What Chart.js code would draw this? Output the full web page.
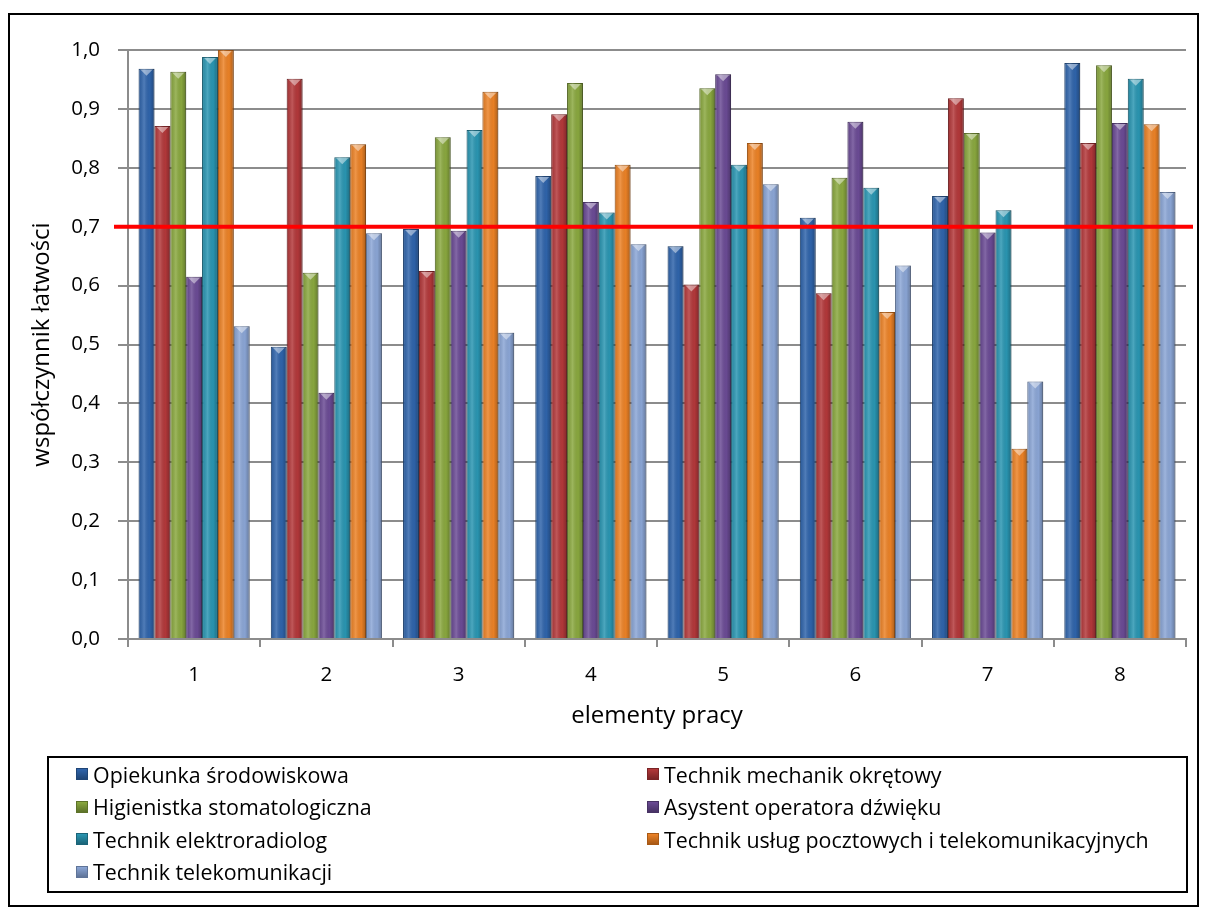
<!DOCTYPE html>
<html>
<head>
<meta charset="utf-8">
<script src="https://cdn.jsdelivr.net/npm/chart.js@4.4.0/dist/chart.umd.min.js"></script>
<style>
  body { margin: 0; background: #fff; font-family: "Open Sans", sans-serif; }
  #wrap { position: relative; width: 1206px; height: 914px; overflow: hidden; }
  #frame { position: absolute; left: 8px; top: 13px; width: 1187px; height: 890px; border: 2px solid #000; }
  #chart { position: absolute; left: 0; top: 0; }
  #legend {
    position: absolute; left: 47px; top: 756px; width: 1141px; height: 137px;
    border: 2px solid #000; box-sizing: border-box;
    display: grid; grid-template-columns: 571px 1fr; grid-auto-rows: 32.5px;
    padding-left: 27px; font-size: 21.4px; color: #000;
  }
  #legend div { display: flex; align-items: center; white-space: nowrap; }
  #legend span.sw { width: 12px; height: 12px; margin-right: 5px; box-sizing: border-box; }
</style>
</head>
<body>
<div id="wrap">
  <div id="frame"></div>
  <canvas id="chart" width="1206" height="914"></canvas>
  <div id="legend"></div>
</div>
<script>
// elementy pracy
const categories = ["1", "2", "3", "4", "5", "6", "7", "8"];

const seriesNames = [
  "Opiekunka środowiskowa",
  "Technik mechanik okrętowy",
  "Higienistka stomatologiczna",
  "Asystent operatora dźwięku",
  "Technik elektroradiolog",
  "Technik usług pocztowych i telekomunikacyjnych",
  "Technik telekomunikacji",
];

const opiekunka = [0.968, 0.496, 0.696, 0.786, 0.667, 0.715, 0.752, 0.978];
const mechanik = [0.871, 0.951, 0.625, 0.891, 0.602, 0.587, 0.918, 0.842];
const higienistka = [0.963, 0.622, 0.852, 0.944, 0.935, 0.783, 0.859, 0.974];
const asystent = [0.615, 0.418, 0.693, 0.742, 0.959, 0.878, 0.690, 0.876];
const elektroradiolog = [0.988, 0.818, 0.864, 0.724, 0.805, 0.766, 0.728, 0.951];
const uslugi = [1.0, 0.840, 0.929, 0.805, 0.842, 0.555, 0.323, 0.874];
const telekomunikacja = [0.531, 0.689, 0.520, 0.670, 0.772, 0.634, 0.437, 0.759];

const threshold = 0.7;

const colors = ["#2f64ab", "#b3383a", "#8aa83f", "#6b4b95", "#2a96b2", "#ec8226", "#8ba6d6"];
const borders = ["#1f4576", "#7a2426", "#5d7229", "#473264", "#1b6478", "#a85915", "#5f7498"];

const allValues = [opiekunka, mechanik, higienistka, asystent, elektroradiolog, uslugi, telekomunikacja];

const datasets = allValues.map((vals, i) => ({
  label: seriesNames[i],
  data: vals,
  backgroundColor: colors[i],
  borderColor: borders[i],
  borderWidth: 1,
  categoryPercentage: 0.84,
  barPercentage: 1.0,
}));

// cylinder-ish shading and the little cap on top of each bar
const barShade = {
  id: "barShade",
  afterDatasetsDraw(chart) {
    const ctx = chart.ctx;
    chart.data.datasets.forEach((ds, di) => {
      chart.getDatasetMeta(di).data.forEach((bar) => {
        const l = bar.x - bar.width / 2;
        const r = bar.x + bar.width / 2;
        const g = ctx.createLinearGradient(l, 0, r, 0);
        g.addColorStop(0, "rgba(0,0,0,0.10)");
        g.addColorStop(0.35, "rgba(255,255,255,0.16)");
        g.addColorStop(0.7, "rgba(0,0,0,0.02)");
        g.addColorStop(1, "rgba(0,0,0,0.28)");
        ctx.save();
        ctx.fillStyle = g;
        ctx.fillRect(l, bar.y, bar.width, bar.base - bar.y);
        ctx.beginPath();
        ctx.moveTo(l + 2, bar.y + 1);
        ctx.lineTo(r - 2, bar.y + 1);
        ctx.lineTo(bar.x, bar.y + 7);
        ctx.closePath();
        ctx.fillStyle = "rgba(255,255,255,0.45)";
        ctx.fill();
        ctx.restore();
      });
    });
  },
};

// red threshold line at 0,7
const thresholdLine = {
  id: "thresholdLine",
  afterDatasetsDraw(chart) {
    const { ctx, chartArea, scales } = chart;
    const y = scales.y.getPixelForValue(threshold);
    ctx.save();
    ctx.strokeStyle = "#ff0000";
    ctx.lineWidth = 4;
    ctx.beginPath();
    ctx.moveTo(chartArea.left - 14, y);
    ctx.lineTo(chartArea.right + 7, y);
    ctx.stroke();
    ctx.restore();
  },
};

const font = { family: "Open Sans", size: 20.5 };
const titleFont = { family: "Open Sans", size: 24 };

new Chart(document.getElementById("chart"), {
  type: "bar",
  data: { labels: categories, datasets: datasets },
  options: {
    responsive: false,
    animation: false,
    layout: { padding: { left: 0, top: 50, right: 20, bottom: 175 } },
    plugins: {
      legend: { display: false },
      tooltip: { enabled: false },
    },
    scales: {
      x: {
        afterFit: (s) => { s.height = 100; },
        grid: { display: true, drawOnChartArea: false, offset: true, tickLength: 8, color: "#8c8c8c", lineWidth: 2 },
        border: { color: "#8c8c8c", width: 2 },
        ticks: { color: "#000", font: font, padding: 16 },
        title: { display: true, text: "elementy pracy", color: "#000", font: titleFont, padding: { top: 0, bottom: 8.6 } },
      },
      y: {
        min: 0,
        max: 1,
        afterFit: (s) => { s.width = 128; },
        grid: { color: "#8c8c8c", lineWidth: 2, tickLength: 10 },
        border: { color: "#8c8c8c", width: 2 },
        ticks: {
          stepSize: 0.1,
          color: "#000",
          font: font,
          padding: 18,
          callback: (v) => v.toFixed(1).replace(".", ","),
        },
        title: { display: true, text: "współczynnik łatwości", color: "#000", font: titleFont, padding: { top: 27.6, bottom: 0 } },
      },
    },
  },
  plugins: [barShade, thresholdLine],
});

// Legend in two columns
const legend = document.getElementById("legend");
seriesNames.forEach((name, i) => {
  const item = document.createElement("div");
  const sw = document.createElement("span");
  sw.className = "sw";
  sw.style.background = "linear-gradient(180deg, " + colors[i] + " 0%, " + borders[i] + " 100%)";
  sw.style.border = "1px solid " + borders[i];
  item.appendChild(sw);
  item.appendChild(document.createTextNode(name));
  legend.appendChild(item);
});
</script>
</body>
</html>
